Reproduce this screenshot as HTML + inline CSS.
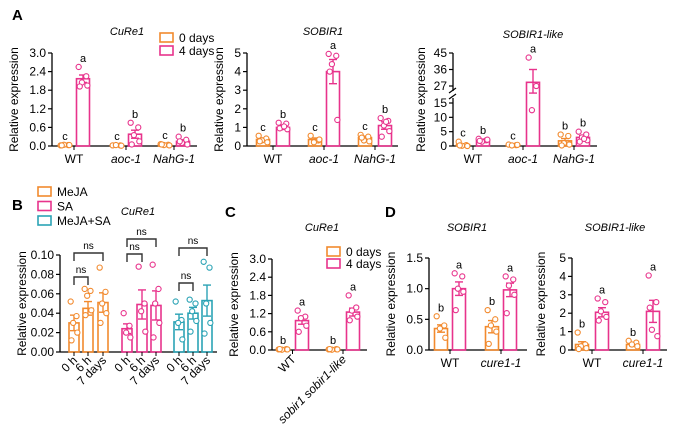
<!DOCTYPE html>
<html><head><meta charset="utf-8"><style>
body{margin:0;background:#fff}
svg{display:block;font-family:"Liberation Sans",Arial,sans-serif}
</style></head><body>
<svg id="fig" width="675" height="431" viewBox="0 0 675 431" xmlns="http://www.w3.org/2000/svg"></svg>
<script>
const OR='#F28A2E', PK='#E8338C', TL='#2BA3B5';
// ---- data ----
const a1Groups=['WT','aoc-1','NahG-1'];
const a1Mean=[0.03,2.17,0.02,0.38,0.04,0.15];
const a1Sem=[0.01,0.12,0.005,0.13,0.01,0.05];
const a1Pts=[[0.02,0.03,0.04,0.03,0.02],[2.55,2.25,2.05,1.95,1.92],[0.02,0.02,0.03,0.01],[0.75,0.6,0.35,0.15,0.05],[0.06,0.04,0.03,0.02,0.05],[0.3,0.2,0.1,0.05,0.15]];
const a1Let=['c','a','c','b','c','b'];
const a1Ticks=['0.0','0.6','1.2','1.8','2.4','3.0'];

const a2Mean=[0.35,1.0,0.35,4.0,0.45,1.1];
const a2Sem=[0.08,0.1,0.08,0.65,0.08,0.2];
const a2Pts=[[0.55,0.4,0.3,0.2,0.25],[1.25,1.2,1.0,0.9,0.95,1.05],[0.55,0.3,0.2,0.35],[4.95,4.85,4.4,1.4,4.0],[0.6,0.5,0.3,0.25,0.45],[1.5,1.35,1.1,0.8,0.5,1.3]];
const a2Let=['c','b','c','a','c','b'];
const a2Ticks=['0','1','2','3','4','5'];

const a3Mean=[0.5,2.0,0.4,29,1.8,3.0];
const a3Sem=[0.3,0.4,0.1,7,0.8,0.6];
const a3Pts=[[1.5,0.3,0.1,0,0.2],[2.5,2.0,1.5,2.2,1.8],[0.5,0.3,0.2,0.4],[42.5,27,12.5],[4,3.5,1,0.5,0.2],[5,4,3,2,1.5,2.5]];
const a3Let=['c','b','c','a','b','b'];
const a3Ticks=['0','5','10','15','27','36','45'];

const bTimes=['0 h','6 h','7 days'];
const bMean=[0.030,0.045,0.051,0.024,0.049,0.048,0.031,0.040,0.053];
const bSem=[0.008,0.007,0.010,0.005,0.015,0.015,0.008,0.006,0.016];
const bPts=[[0.052,0.037,0.03,0.02,0.012],[0.065,0.063,0.058,0.043,0.038],[0.087,0.062,0.05,0.04,0.03],[0.04,0.027,0.02,0.015],[0.088,0.05,0.042,0.021],[0.09,0.065,0.05,0.03,0.015],[0.052,0.033,0.03,0.013],[0.054,0.05,0.042,0.032,0.021],[0.093,0.087,0.05,0.03,0.019]];
const bTicks=['0.00','0.02','0.04','0.06','0.08','0.10'];

const cGroups=['WT','sobir1 sobir1-like'];
const cMean=[0.02,0.97,0.02,1.25];
const cSem=[0.005,0.12,0.005,0.13];
const cPts=[[0.02,0.03,0.01,0.02,0.03],[1.3,1.1,1.05,0.8,0.6],[0.02,0.03,0.01,0.02,0.03],[1.8,1.4,1.3,1.1,0.98]];
const cLet=['b','a','b','a'];

const dGroups=['WT','cure1-1'];
const d1Mean=[0.35,1.0,0.38,0.98];
const d1Sem=[0.06,0.11,0.1,0.11];
const d1Pts=[[0.55,0.4,0.35,0.2],[1.25,1.2,1.0,0.95,0.65],[0.65,0.5,0.4,0.3,0.1],[1.2,1.15,1.05,0.9,0.6]];
const d1Let=['b','a','b','a'];
const d1Ticks=['0.0','0.5','1.0','1.5'];
const d2Mean=[0.3,2.05,0.3,2.1];
const d2Sem=[0.15,0.25,0.08,0.6];
const d2Pts=[[0.95,0.3,0.2,0.1,0.05],[2.8,2.6,2.1,1.8,1.6],[0.5,0.4,0.3,0.2],[4.05,2.6,1.1,0.75,2.3]];
const d2Let=['b','a','b','a'];
const d2Ticks=['0','1','2','3','4','5'];

const svg=document.getElementById('fig');
const NS='http://www.w3.org/2000/svg';
function mk(tag,at,parent){const e=document.createElementNS(NS,tag);for(const k in at)e.setAttribute(k,at[k]);(parent||svg).appendChild(e);return e;}
function txt(s,at,parent){const e=mk('text',Object.assign({fill:'#000','font-size':11},at),parent);e.textContent=s;return e;}

function panel(name,o){
  const g=mk('g',{});
  
  
  const Y=o.y;
  const ax=mk('line',{x1:o.ax,y1:o.top,x2:o.ax,y2:o.bot,stroke:'#000','stroke-width':1.3},g);
  
  
  mk('line',{x1:o.ax,y1:o.bot,x2:o.axEnd,y2:o.bot,stroke:'#000','stroke-width':1.3},g);
  o.ticks.forEach(t=>{const y=Y(parseFloat(t));
    mk('line',{x1:o.ax-4,y1:y,x2:o.ax,y2:y,stroke:'#000','stroke-width':1.2},g);
    const l=txt(t,{x:o.ax-6,y:y+4,'text-anchor':'end','font-size':12},g);
    
    });
  const yt=txt('Relative expression',{x:0,y:0,'text-anchor':'middle','font-size':12,transform:`translate(${o.ax-o.ytOff},${(o.top+o.bot)/2}) rotate(-90)`},g);
  
  
  const tt=txt(o.title,{x:o.tx,y:o.ty,'text-anchor':'middle','font-style':'italic','font-size':11},g);
  
  
  o.mean.forEach((m,i)=>{
    const cx=o.xs[i], c=o.col(i), w=o.bw;
    const y0=Y(0), ym=Y(m);
    const b=mk('rect',{x:cx-w/2,y:ym,width:w,height:Math.max(0.5,y0-ym),fill:'none',stroke:c,'stroke-width':1.6},g);
    
    
    const s=o.sem[i], yh=Y(m+s), yl=Y(Math.max(0,m-s));
    mk('line',{x1:cx,y1:yh,x2:cx,y2:yl,stroke:c,'stroke-width':1.4},g);
    mk('line',{x1:cx-4,y1:yh,x2:cx+4,y2:yh,stroke:c,'stroke-width':1.4},g);
    mk('line',{x1:cx-4,y1:yl,x2:cx+4,y2:yl,stroke:c,'stroke-width':1.4},g);
    let mx=m+s;
    o.pts[i].forEach((p,j)=>{mx=Math.max(mx,p);
      const off=[-4,3,-1,4,-3,1][j%6]*w/12;
      const pt=mk('circle',{cx:cx+off,cy:Y(p),r:2.6,fill:'#fff',stroke:c,'stroke-width':1.1},g);
      
      });
    if(o.let){const l=txt(o.let[i],{x:cx,y:Y(mx)-5,'text-anchor':'middle','font-size':11},g);
      
      }
  });
  return g;
}
function legend(x,y,items,gap){items.forEach((it,i)=>{
  const r=mk('rect',{x:x,y:y+i*gap-5,width:13,height:9,fill:'none',stroke:it[1],'stroke-width':1.6});
  
  
  const t=txt(it[0],{x:x+19,y:y+i*gap+4,'font-size':12});
  
  });}
function lab(s,x,y){const t=txt(s,{x:x,y:y,'font-size':15,'font-weight':'bold'});}
function xlab(s,x,y,it,g){const t=txt(s,{x:x,y:y,'text-anchor':'middle','font-size':12,'font-style':it?'italic':'normal'},g);}
const pairCol=i=>i%2?PK:OR;
const lin=(top,bot,max)=>v=>bot-(v/max)*(bot-top);

// A1
lab('A',12,20);
const xsA1=[65,83,117,135,165,183];
panel('chart-a-cure1',{ax:52,axEnd:197,top:53,bot:146,y:lin(53,146,3),ticks:a1Ticks,title:'CuRe1',tx:127,ty:35,ytOff:34,mean:a1Mean,sem:a1Sem,pts:a1Pts,let:a1Let,xs:xsA1,bw:13,col:pairCol});
a1Groups.forEach((s,i)=>{xlab(s,(xsA1[2*i]+xsA1[2*i+1])/2,163,i>0);mk('line',{x1:(xsA1[2*i]+xsA1[2*i+1])/2,y1:146,x2:(xsA1[2*i]+xsA1[2*i+1])/2,y2:150,stroke:'#000'});});
legend(160,38,[['0 days',OR],['4 days',PK]],13);
// A2
const xsA2=[263,283,315,333,365,385];
panel('chart-a-sobir1',{ax:247,axEnd:398,top:53,bot:146,y:lin(53,146,5),ticks:a2Ticks,title:'SOBIR1',tx:323,ty:35,ytOff:24,mean:a2Mean,sem:a2Sem,pts:a2Pts,let:a2Let,xs:xsA2,bw:13,col:pairCol});
a1Groups.forEach((s,i)=>{const c=(xsA2[2*i]+xsA2[2*i+1])/2;xlab(s,c,163,i>0);mk('line',{x1:c,y1:146,x2:c,y2:150,stroke:'#000'});});
// A3 broken axis
const yA3=v=>v<=15?146-v*43/15:(v>=27?86-(v-27)*33/18:103-(v-15)*17/12);
const xsA3=[463,483,513,533,565,583];
panel('chart-a-sobir1-like',{ax:453,axEnd:597,top:53,bot:146,y:yA3,ticks:a3Ticks,title:'SOBIR1-like',tx:533,ty:38,ytOff:28,mean:a3Mean,sem:a3Sem,pts:a3Pts,let:a3Let,xs:xsA3,bw:13,col:pairCol});
mk('rect',{x:448,y:91,width:8,height:7,fill:'#fff'});
mk('line',{x1:449,y1:93,x2:456,y2:88,stroke:'#000','stroke-width':1.2});
mk('line',{x1:449,y1:99,x2:456,y2:94,stroke:'#000','stroke-width':1.2});
a1Groups.forEach((s,i)=>{const c=(xsA3[2*i]+xsA3[2*i+1])/2;xlab(s,c,163,i>0);mk('line',{x1:c,y1:146,x2:c,y2:150,stroke:'#000'});});

// B
lab('B',12,210);
legend(38,192,[['MeJA',OR],['SA',PK],['MeJA+SA',TL]],14.5);
const xsB=[74,88,103,127,142,156,179,193,207];
const yB=lin(255,352,0.1);
panel('chart-b-cure1',{ax:60,axEnd:217,top:255,bot:352,y:yB,ticks:bTicks,title:'CuRe1',tx:138,ty:215,ytOff:34,mean:bMean,sem:bSem,pts:bPts,let:null,xs:xsB,bw:10,col:i=>[OR,PK,TL][Math.floor(i/3)]});
xsB.forEach((x,i)=>{mk('line',{x1:x,y1:352,x2:x,y2:356,stroke:'#000'});
  const t=txt(bTimes[i%3],{x:0,y:0,'text-anchor':'end','font-size':12,transform:`translate(${x+4},${361}) rotate(-45)`});
  });
const brY=[[277,253],[254,239],[283,248]];
[0,1,2].forEach(k=>{const x0=xsB[3*k],x1=xsB[3*k+1],x2=xsB[3*k+2];
  const [y1,y2]=brY[k];
  [[x0,x1,y1],[x0,x2,y2]].forEach(([a,b,y])=>{
    const p=mk('path',{d:`M${a},${y+8}V${y}H${b}V${y+8}`,fill:'none',stroke:'#333','stroke-width':1.4});
    
    const t=txt('ns',{x:(a+b)/2,y:y-4,'text-anchor':'middle','font-size':10});
    });});

// C
lab('C',225,217);
const xsC=[283,302,333,353];
panel('chart-c-cure1',{ax:272,axEnd:367,top:259,bot:350,y:lin(259,350,3),ticks:a1Ticks,title:'CuRe1',tx:322,ty:231,ytOff:34,mean:cMean,sem:cSem,pts:cPts,let:cLet,xs:xsC,bw:13,col:pairCol});
cGroups.forEach((s,i)=>{const c=(xsC[2*i]+xsC[2*i+1])/2;mk('line',{x1:c,y1:350,x2:c,y2:354,stroke:'#000'});
  const t=txt(s,{x:0,y:0,'text-anchor':'end','font-size':12,'font-style':i?'italic':'normal',transform:`translate(${c+4},${360}) rotate(-45)`});
  });
legend(327,252,[['0 days',OR],['4 days',PK]],12);

// D
lab('D',385,217);
const xsD1=[441,459,492,510];
panel('chart-d-sobir1',{ax:429,axEnd:527,top:258,bot:350,y:lin(258,350,1.5),ticks:d1Ticks,title:'SOBIR1',tx:467,ty:231,ytOff:34,mean:d1Mean,sem:d1Sem,pts:d1Pts,let:d1Let,xs:xsD1,bw:13,col:pairCol});
dGroups.forEach((s,i)=>{const c=(xsD1[2*i]+xsD1[2*i+1])/2;xlab(s,c,367,i>0);mk('line',{x1:c,y1:350,x2:c,y2:354,stroke:'#000'});});
const xsD2=[582,602,633,653];
panel('chart-d-sobir1-like',{ax:572,axEnd:667,top:258,bot:350,y:lin(258,350,5),ticks:d2Ticks,title:'SOBIR1-like',tx:615,ty:231,ytOff:27,mean:d2Mean,sem:d2Sem,pts:d2Pts,let:d2Let,xs:xsD2,bw:13,col:pairCol});
dGroups.forEach((s,i)=>{const c=(xsD2[2*i]+xsD2[2*i+1])/2;xlab(s,c,367,i>0);mk('line',{x1:c,y1:350,x2:c,y2:354,stroke:'#000'});});
</script>
</body></html>
